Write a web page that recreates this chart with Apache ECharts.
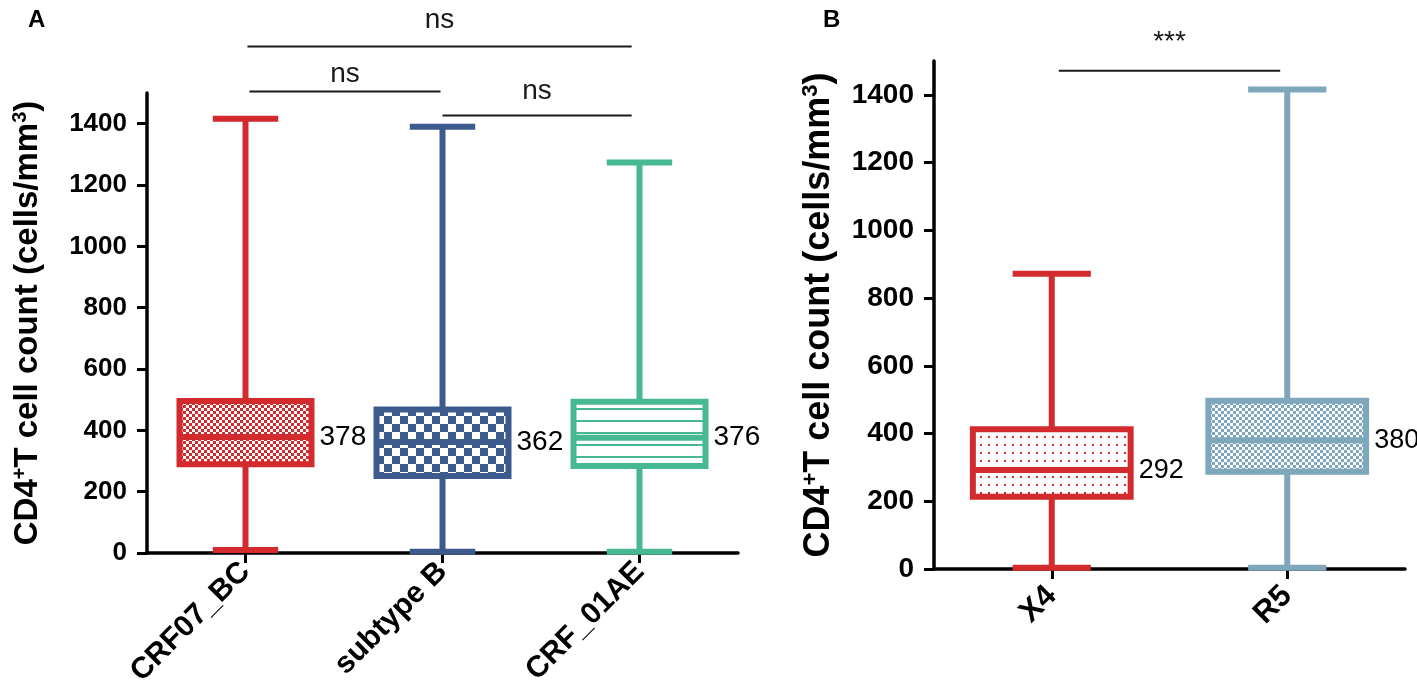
<!DOCTYPE html>
<html>
<head>
<meta charset="utf-8">
<script src="https://cdn.jsdelivr.net/npm/echarts@6/dist/echarts.min.js"></script>
<style>
html, body { margin: 0; padding: 0; background: #fff; }
#chart { width: 1417px; height: 697px; }
</style>
</head>
<body>
<div id="chart"></div>
<script>
// A: CD4 count by HIV subtype, rows are [min, Q1, median, Q3, max]
var subtypes = ['CRF07_BC', 'subtype B', 'CRF_01AE'];
var subtypeBoxes = [
    [10, 289, 378, 496, 1416],
    [4, 251, 362, 468, 1390],
    [4, 284, 376, 493, 1273]
];
// significance bars: [from, to, bar value, text value, text]
var subtypeTests = [
    [1.01, 2.96, 1652, 1736, 'ns'],
    [1.02, 1.99, 1505, 1560, 'ns'],
    [2.00, 2.96, 1427, 1505, 'ns']
];
// B: CD4 count by co-receptor tropism
var tropism = ['X4', 'R5'];
var tropismBoxes = [
    [4, 213, 292, 413, 872],
    [4, 287, 380, 497, 1416]
];
var tropismTests = [
    [1.03, 1.97, 1471, 1556, '***']
];
var yTicks = [0, 200, 400, 600, 800, 1000, 1200, 1400];

var FONT = 'Liberation Sans, Arial, Helvetica, sans-serif';

// fill patterns built on small canvases
function checker(color, cell) {
    var c = document.createElement('canvas');
    c.width = c.height = cell * 2;
    var g = c.getContext('2d');
    g.fillStyle = '#fff';
    g.fillRect(0, 0, cell * 2, cell * 2);
    g.fillStyle = color;
    g.fillRect(0, 0, cell, cell);
    g.fillRect(cell, cell, cell, cell);
    return { image: c, repeat: 'repeat' };
}
function dots(color, step, size) {
    var c = document.createElement('canvas');
    c.width = c.height = step;
    var g = c.getContext('2d');
    g.fillStyle = '#fff';
    g.fillRect(0, 0, step, step);
    g.fillStyle = color;
    g.fillRect(Math.floor(step / 2), Math.floor(step / 2), size, size);
    return { image: c, repeat: 'repeat' };
}
function hlines(color, step, w) {
    var c = document.createElement('canvas');
    c.width = 4; c.height = step;
    var g = c.getContext('2d');
    g.fillStyle = '#fff';
    g.fillRect(0, 0, 4, step);
    g.fillStyle = color;
    g.fillRect(0, 0, 4, w);
    return { image: c, repeat: 'repeat' };
}

var colorsA = ['#d32a2e', '#3c5a8b', '#47b894'];
var fillsA = [checker('#d32a2e', 3), checker('#3c5a8b', 8), hlines('#47b894', 12, 2)];
var colorsB = ['#d32a2e', '#7fa7bc'];
var fillsB = [dots('#d32a2e', 8, 2), checker('#7fa7bc', 3)];

function boxItem(colors, fills, labelSize) {
    return function (params, api) {
        var i = params.dataIndex;
        var x = api.value(0);
        var col = colors[i];
        var p = function (v) { return api.coord([x, v]); };
        var lo = p(api.value(1)), q1 = p(api.value(2)), med = p(api.value(3)),
            q3 = p(api.value(4)), hi = p(api.value(5));
        var halfBox = api.size([0.335, 0])[0];
        var halfCap = api.size([0.166, 0])[0];
        var lw = 6;
        var line = function (x1, y1, x2, y2) {
            return { type: 'line', shape: { x1: x1, y1: y1, x2: x2, y2: y2 },
                style: { stroke: col, lineWidth: lw } };
        };
        return {
            type: 'group',
            children: [
                line(lo[0], lo[1], hi[0], hi[1]),
                line(lo[0] - halfCap, lo[1], lo[0] + halfCap, lo[1]),
                line(hi[0] - halfCap, hi[1], hi[0] + halfCap, hi[1]),
                { type: 'rect',
                  shape: { x: q3[0] - halfBox, y: q3[1], width: halfBox * 2, height: q1[1] - q3[1] },
                  style: { fill: fills[i], stroke: col, lineWidth: lw } },
                line(med[0] - halfBox, med[1], med[0] + halfBox, med[1]),
                { type: 'text', x: med[0] + halfBox + lw / 2 + 5, y: med[1],
                  style: { text: String(api.value(3)), fill: '#000', fontSize: labelSize,
                      fontFamily: FONT, verticalAlign: 'middle', align: 'left' } }
            ]
        };
    };
}

function testItem(size) {
    return function (params, api) {
        var a = api.coord([api.value(0), api.value(2)]);
        var b = api.coord([api.value(1), api.value(2)]);
        var t = api.coord([(api.value(0) + api.value(1)) / 2, api.value(3)]);
        return {
            type: 'group',
            children: [
                { type: 'line', shape: { x1: a[0], y1: a[1], x2: b[0], y2: b[1] },
                  style: { stroke: '#1a1a1a', lineWidth: 2 } },
                { type: 'text', x: t[0], y: t[1],
                  style: { text: api.value(4), fill: '#1a1a1a', fontSize: size, fontFamily: FONT,
                      align: 'center', verticalAlign: 'middle' } }
            ]
        };
    };
}

function makeX(gi, names, size, margin) {
    var vals = names.map(function (d, i) { return i + 1; });
    return {
        type: 'value', gridIndex: gi, min: 0.5, max: names.length + 0.5,
        axisLine: { show: true, onZero: false, lineStyle: { color: '#000', width: 3.5 } },
        axisTick: { show: true, length: 10, customValues: vals, lineStyle: { color: '#000', width: 3 } },
        axisLabel: {
            customValues: vals, rotate: 45, margin: margin, color: '#000',
            fontSize: size, fontWeight: 'bold', fontFamily: FONT,
            formatter: function (v) { return names[Math.round(v) - 1] || ''; }
        },
        splitLine: { show: false }
    };
}

function makeY(gi, gap, nameSize, tickSize) {
    return {
        type: 'value', gridIndex: gi, min: 0, max: 1500,
        name: '{n|CD4}{s|+}{n|T cell count (cells/mm}{s|3}{n|)}',
        nameLocation: 'middle', nameRotate: 90, nameGap: gap,
        nameTextStyle: {
            rich: {
                n: { fontSize: nameSize, fontWeight: 'bold', fontFamily: FONT, color: '#000',
                     lineHeight: nameSize + 2 },
                s: { fontSize: Math.round(nameSize * 0.6), fontWeight: 'bold', fontFamily: FONT,
                     color: '#000', verticalAlign: 'top' }
            }
        },
        axisLine: { show: true, onZero: false, lineStyle: { color: '#000', width: 3.5 } },
        axisTick: { show: true, length: 10, customValues: yTicks, lineStyle: { color: '#000', width: 3 } },
        axisLabel: { customValues: yTicks, margin: 20, color: '#000', fontSize: tickSize,
            fontWeight: 'bold', fontFamily: FONT,
            formatter: function (v) { return String(v); } },
        splitLine: { show: false }
    };
}

var chart = echarts.init(document.getElementById('chart'));
chart.setOption({
    backgroundColor: '#fff',
    animation: false,
    title: [
        { text: 'A', left: 23, top: 3, textStyle: { fontSize: 24, fontWeight: 'bold', fontFamily: FONT, color: '#000' } },
        { text: 'B', left: 818, top: 3, textStyle: { fontSize: 24, fontWeight: 'bold', fontFamily: FONT, color: '#000' } }
    ],
    grid: [
        { left: 147, top: 93, width: 591, height: 460, containLabel: false, outerBoundsMode: 'none' },
        { left: 934, top: 61, width: 471, height: 508, containLabel: false, outerBoundsMode: 'none' }
    ],
    xAxis: [makeX(0, subtypes, 30, 14), makeX(1, tropism, 31, 22)],
    yAxis: [makeY(0, 102, 33, 26), makeY(1, 96, 36, 28)],
    series: [
        { type: 'custom', xAxisIndex: 0, yAxisIndex: 0, clip: false,
          renderItem: boxItem(colorsA, fillsA, 28),
          encode: { x: 0, y: [1, 2, 3, 4, 5] },
          data: subtypeBoxes.map(function (b, i) { return [i + 1].concat(b); }) },
        { type: 'custom', xAxisIndex: 1, yAxisIndex: 1, clip: false,
          renderItem: boxItem(colorsB, fillsB, 27),
          encode: { x: 0, y: [1, 2, 3, 4, 5] },
          data: tropismBoxes.map(function (b, i) { return [i + 1].concat(b); }) },
        { type: 'custom', xAxisIndex: 0, yAxisIndex: 0, clip: false,
          renderItem: testItem(28), encode: { x: [0, 1], y: 2 }, data: subtypeTests },
        { type: 'custom', xAxisIndex: 1, yAxisIndex: 1, clip: false,
          renderItem: testItem(28), encode: { x: [0, 1], y: 2 }, data: tropismTests }
    ]
});
</script>
</body>
</html>
